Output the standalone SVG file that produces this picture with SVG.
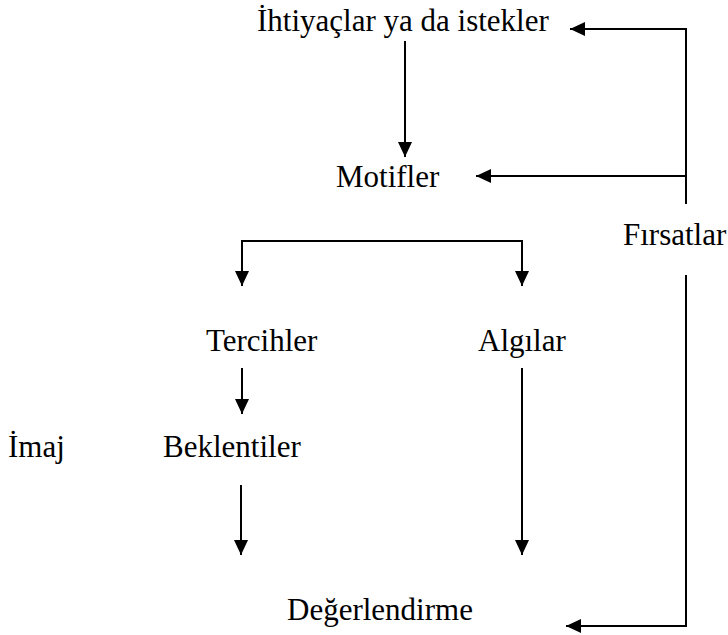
<svg xmlns="http://www.w3.org/2000/svg" width="728" height="635" viewBox="0 0 728 635">
  <style>
    text { font-family: "Liberation Serif", "Times New Roman", serif; font-size: 31px; fill: #000; }
    .link { fill: none; stroke: #000; stroke-width: 2; marker-end: url(#arrow); }
  </style>
  <defs>
    <marker id="arrow" markerUnits="userSpaceOnUse" markerWidth="15" markerHeight="14" refX="15" refY="7" orient="auto">
      <path d="M0,0 L15,7 L0,14 z" fill="#000"/>
    </marker>
  </defs>
  <rect width="728" height="635" fill="#fff"/>

  <g id="needs"><text x="257" y="31">İhtiyaçlar ya da istekler</text></g>
  <g id="motives"><text x="336" y="187">Motifler</text></g>
  <g id="opportunities"><text x="623" y="245">Fırsatlar</text></g>
  <g id="preferences"><text x="206" y="351">Tercihler</text></g>
  <g id="perceptions"><text x="478" y="351">Algılar</text></g>
  <g id="image"><text x="8" y="457">İmaj</text></g>
  <g id="expectations"><text x="163" y="457">Beklentiler</text></g>
  <g id="evaluation"><text x="287" y="620">Değerlendirme</text></g>

  <g id="connectors">
    <path class="link" d="M686,204 V29 H570"/>
    <path class="link" d="M686,176 H476"/>
    <path class="link" d="M686,275 V626 H566"/>
    <path class="link" d="M405,41 V157"/>
    <path class="link" d="M382,241 H242 V286"/>
    <path class="link" d="M382,241 H522 V286"/>
    <path class="link" d="M242,368 V414"/>
    <path class="link" d="M522,368 V555"/>
    <path class="link" d="M241,485 V555"/>
  </g>
</svg>
